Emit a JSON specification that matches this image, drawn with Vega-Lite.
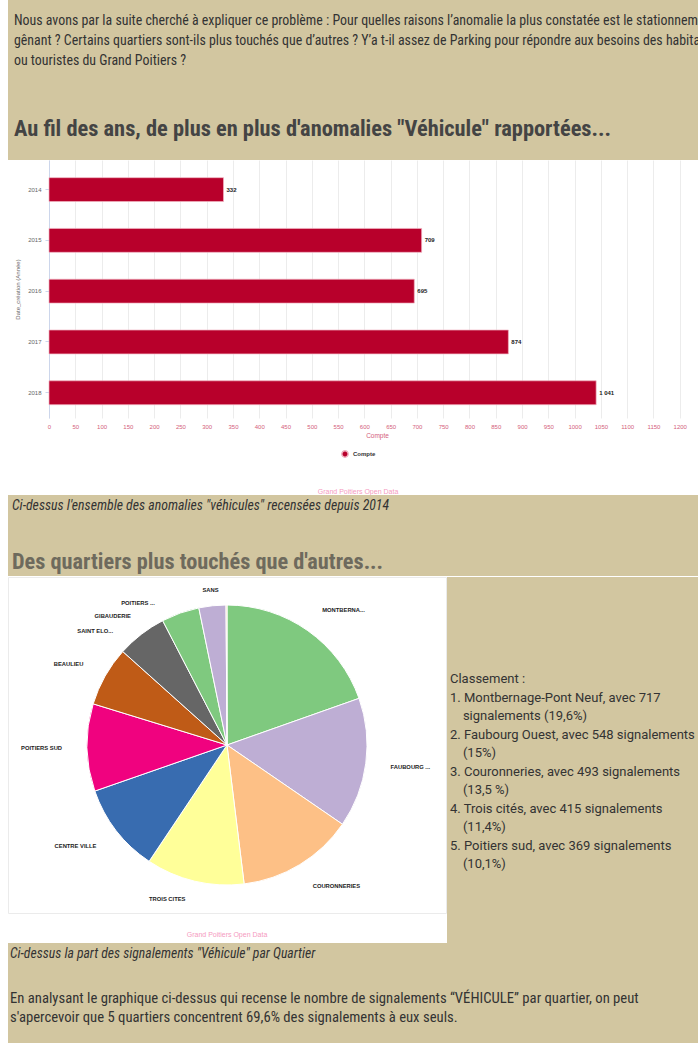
{
  "$schema": "https://vega.github.io/schema/vega-lite/v6.json",
  "background": "white",
  "padding": {"left": 6, "top": 0, "right": 0, "bottom": 0},
  "columns": 1,
  "align": "none",
  "spacing": 0,
  "resolve": {"scale": {"color": "independent"}, "legend": {"color": "independent"}},
  "config": {
    "view": {"stroke": null},
    "concat": {"spacing": 0},
    "locale": {"number": {"decimal": ",", "thousands": "\u00a0", "grouping": [3], "currency": ["", "\u00a0€"]}},
    "title": {"anchor": "start", "frame": "group", "orient": "bottom", "font": "Liberation Sans Narrow, Roboto Condensed, Roboto, sans-serif", "subtitleFont": "Liberation Sans Narrow, Roboto Condensed, Roboto, sans-serif"}
  },
  "concat": [
    {
      "width": 692,
      "height": 160,
      "view": {"fill": "#d2c6a0", "stroke": null},
      "data": {"values": []},
      "mark": {"type": "point"},
      "title": {
        "text": [
          "Nous avons par la suite cherché à expliquer ce problème : Pour quelles raisons l’anomalie la plus constatée est le stationnement",
          "gênant ? Certains quartiers sont-ils plus touchés que d’autres ? Y’a t-il assez de Parking pour répondre aux besoins des habitants",
          "ou touristes du Grand Poitiers ?"
        ],
        "subtitle": "Au fil des ans, de plus en plus d'anomalies \"Véhicule\" rapportées...",
        "orient": "bottom",
        "anchor": "start",
        "frame": "group",
        "offset": -146,
        "dx": 6,
        "fontSize": 13.9,
        "fontWeight": "normal",
        "color": "#333333",
        "lineHeight": 20,
        "subtitleFontSize": 22.4,
        "subtitleFontWeight": "bold",
        "subtitleColor": "#444444",
        "subtitlePadding": 50
      }
    },
    {
      "width": 692,
      "height": 258,
      "data": {"values": [
        {"annee": "2014", "compte": 332},
        {"annee": "2015", "compte": 709},
        {"annee": "2016", "compte": 695},
        {"annee": "2017", "compte": 874},
        {"annee": "2018", "compte": 1041}
      ]},
      "title": {
        "text": "Grand Poitiers Open Data",
        "orient": "bottom",
        "anchor": "middle",
        "frame": "group",
        "offset": 27,
        "dx": 4,
        "font": "Liberation Sans, Arial, sans-serif",
        "fontSize": 7,
        "fontWeight": "normal",
        "color": "#f59ac0"
      },
      "encoding": {
        "y": {
          "field": "annee",
          "type": "ordinal",
          "title": "Date_création (Année)",
          "scale": {"paddingInner": 0.53, "paddingOuter": 0.305, "align": 0.57},
          "axis": {
            "offset": -41,
            "labelFont": "Liberation Sans, Arial, sans-serif",
            "titleFont": "Liberation Sans, Arial, sans-serif",
            "labelFontSize": 6,
            "labelColor": "#666666",
            "titleFontSize": 6,
            "titleColor": "#666666",
            "titleFontWeight": "normal",
            "tickSize": 4,
            "tickColor": "#ccd6eb",
            "domainColor": "#ccd6eb",
            "labelPadding": 4,
            "titlePadding": 7,
            "minExtent": 22,
            "maxExtent": 22,
            "grid": false
          }
        },
        "x": {
          "field": "compte",
          "type": "quantitative",
          "title": "Compte",
          "scale": {"domain": [0, 1250], "nice": false, "range": [41, 698]},
          "axis": {
            "values": [0, 50, 100, 150, 200, 250, 300, 350, 400, 450, 500, 550, 600, 650, 700, 750, 800, 850, 900, 950, 1000, 1050, 1100, 1150, 1200, 1250],
            "format": "d",
            "labelFont": "Liberation Sans, Arial, sans-serif",
            "titleFont": "Liberation Sans, Arial, sans-serif",
            "labelFontSize": 6,
            "labelColor": "#d4607c",
            "titleColor": "#d4607c",
            "titleFontSize": 6.5,
            "titleFontWeight": "normal",
            "titleX": 369,
            "ticks": false,
            "domain": false,
            "labelPadding": 5,
            "titlePadding": 3,
            "grid": true,
            "gridColor": "#ececec",
            "labelFlush": false,
            "labelOverlap": false
          }
        }
      },
      "layer": [
        {
          "mark": {"type": "bar", "stroke": "#f0b3c2", "strokeWidth": 0.7},
          "encoding": {
            "color": {
              "datum": "Compte",
              "type": "nominal",
              "scale": {"range": ["#b8002b"]},
              "legend": {
                "title": null,
                "orient": "none",
                "legendX": 333,
                "legendY": 290,
                "symbolType": "circle",
                "symbolSize": 40,
                "labelFont": "Liberation Sans, Arial, sans-serif",
                "labelFontSize": 6,
                "labelFontWeight": "bold",
                "labelColor": "#333333"
              }
            }
          }
        },
        {
          "mark": {"type": "text", "align": "left", "baseline": "middle", "dx": 3, "fontSize": 6, "fontWeight": "bold", "color": "#222222", "font": "Liberation Sans, Arial, sans-serif"},
          "encoding": {"text": {"field": "compte", "type": "quantitative", "format": ",d"}}
        }
      ]
    },
    {
      "width": 692,
      "height": 81,
      "view": {"fill": "#d2c6a0", "stroke": null},
      "data": {"values": []},
      "mark": {"type": "point"},
      "title": {
        "text": "Ci-dessus l'ensemble des anomalies \"véhicules\" recensées depuis 2014",
        "subtitle": "Des quartiers plus touchés que d'autres...",
        "orient": "bottom",
        "anchor": "start",
        "frame": "group",
        "offset": -77,
        "dx": 4,
        "fontSize": 13.8,
        "fontStyle": "italic",
        "fontWeight": "normal",
        "color": "#333333",
        "subtitleFontSize": 22.3,
        "subtitleFontStyle": "normal",
        "subtitleFontWeight": "bold",
        "subtitleColor": "#6e6a5d",
        "subtitlePadding": 38
      }
    },
    {
      "spacing": 0,
      "resolve": {"scale": {"color": "independent"}},
      "hconcat": [
        {
          "width": 438,
          "height": 336,
          "view": {"stroke": "#ebebeb"},
          "data": {"values": [
            {"label": "MONTBERNA...", "n": 717},
            {"label": "FAUBOURG ...", "n": 548},
            {"label": "COURONNERIES", "n": 493},
            {"label": "TROIS CITES", "n": 415},
            {"label": "CENTRE VILLE", "n": 376},
            {"label": "POITIERS SUD", "n": 369},
            {"label": "BEAULIEU", "n": 252},
            {"label": "SAINT ELO...", "n": 211},
            {"label": "GIBAUDERIE", "n": 160},
            {"label": "POITIERS ...", "n": 114},
            {"label": "SANS", "n": 4}
          ]},
          "title": {
            "text": "Grand Poitiers Open Data",
            "orient": "bottom",
            "anchor": "middle",
            "frame": "group",
            "offset": -4,
            "font": "Liberation Sans, Arial, sans-serif",
            "fontSize": 7,
            "fontWeight": "normal",
            "color": "#f59ac0"
          },
          "encoding": {
            "theta": {"field": "n", "type": "quantitative", "stack": true},
            "order": {"field": "n", "type": "quantitative", "sort": "descending"}
          },
          "layer": [
            {
              "mark": {"type": "arc", "outerRadius": 140, "stroke": "white", "strokeWidth": 1},
              "encoding": {
                "color": {
                  "field": "label",
                  "type": "nominal",
                  "scale": {
                    "domain": ["MONTBERNA...", "FAUBOURG ...", "COURONNERIES", "TROIS CITES", "CENTRE VILLE", "POITIERS SUD", "BEAULIEU", "SAINT ELO...", "GIBAUDERIE", "POITIERS ...", "SANS"],
                    "range": ["#7fc97f", "#beaed4", "#fdc086", "#ffff99", "#386cb0", "#f0027f", "#bf5b17", "#666666", "#7fc97f", "#beaed4", "#fdc086"]
                  },
                  "legend": null
                }
              }
            },
            {
              "mark": {"type": "text", "radius": 165, "align": "left", "baseline": "middle", "fontSize": 5.8, "fontWeight": "bold", "color": "#222222", "font": "Liberation Sans, Arial, sans-serif"},
              "encoding": {
                "detail": {"field": "label", "type": "nominal"},
                "text": {"condition": {"test": "indexof(['MONTBERNA...','FAUBOURG ...','COURONNERIES'], datum.label) >= 0", "field": "label", "type": "nominal"}, "value": ""}
              }
            },
            {
              "mark": {"type": "text", "radius": 165, "align": "right", "baseline": "middle", "fontSize": 5.8, "fontWeight": "bold", "color": "#222222", "font": "Liberation Sans, Arial, sans-serif"},
              "encoding": {
                "detail": {"field": "label", "type": "nominal"},
                "text": {"condition": {"test": "indexof(['CENTRE VILLE','POITIERS SUD','BEAULIEU'], datum.label) >= 0", "field": "label", "type": "nominal"}, "value": ""}
              }
            },
            {
              "mark": {"type": "text", "radius": 158, "align": "right", "baseline": "middle", "dx": -5, "fontSize": 5.8, "fontWeight": "bold", "color": "#222222", "font": "Liberation Sans, Arial, sans-serif"},
              "encoding": {
                "detail": {"field": "label", "type": "nominal"},
                "text": {"condition": {"test": "datum.label == 'TROIS CITES'", "field": "label", "type": "nominal"}, "value": ""}
              }
            },
            {
              "mark": {"type": "text", "radius": 165, "align": "right", "baseline": "middle", "dx": -13, "dy": 16, "fontSize": 5.8, "fontWeight": "bold", "color": "#222222", "font": "Liberation Sans, Arial, sans-serif"},
              "encoding": {
                "detail": {"field": "label", "type": "nominal"},
                "text": {"condition": {"test": "datum.label == 'SAINT ELO...'", "field": "label", "type": "nominal"}, "value": ""}
              }
            },
            {
              "mark": {"type": "text", "radius": 165, "align": "right", "baseline": "middle", "dx": -41, "dy": 27, "fontSize": 5.8, "fontWeight": "bold", "color": "#222222", "font": "Liberation Sans, Arial, sans-serif"},
              "encoding": {
                "detail": {"field": "label", "type": "nominal"},
                "text": {"condition": {"test": "datum.label == 'GIBAUDERIE'", "field": "label", "type": "nominal"}, "value": ""}
              }
            },
            {
              "mark": {"type": "text", "radius": 165, "align": "right", "baseline": "middle", "dx": -55, "dy": 22, "fontSize": 5.8, "fontWeight": "bold", "color": "#222222", "font": "Liberation Sans, Arial, sans-serif"},
              "encoding": {
                "detail": {"field": "label", "type": "nominal"},
                "text": {"condition": {"test": "datum.label == 'POITIERS ...'", "field": "label", "type": "nominal"}, "value": ""}
              }
            },
            {
              "mark": {"type": "text", "radius": 165, "align": "center", "baseline": "middle", "dx": -16, "dy": 10, "fontSize": 5.8, "fontWeight": "bold", "color": "#222222", "font": "Liberation Sans, Arial, sans-serif"},
              "encoding": {
                "detail": {"field": "label", "type": "nominal"},
                "text": {"condition": {"test": "datum.label == 'SANS'", "field": "label", "type": "nominal"}, "value": ""}
              }
            }
          ]
        },
        {
          "width": 254,
          "height": 366,
          "view": {"fill": "#d2c6a0", "stroke": null},
          "data": {"values": []},
          "mark": {"type": "point"},
          "title": {
            "text": [
              "Classement :",
              "1. Montbernage-Pont Neuf, avec 717",
              "\u200b\u00a0\u00a0\u00a0\u00a0signalements (19,6%)",
              "2. Faubourg Ouest, avec 548 signalements",
              "\u200b\u00a0\u00a0\u00a0\u00a0(15%)",
              "3. Couronneries, avec 493 signalements",
              "\u200b\u00a0\u00a0\u00a0\u00a0(13,5 %)",
              "4. Trois cités, avec 415 signalements",
              "\u200b\u00a0\u00a0\u00a0\u00a0(11,4%)",
              "5. Poitiers sud, avec 369 signalements",
              "\u200b\u00a0\u00a0\u00a0\u00a0(10,1%)"
            ],
            "orient": "bottom",
            "anchor": "start",
            "frame": "group",
            "offset": -270,
            "dx": 3,
            "font": "Roboto",
            "fontSize": 13,
            "fontWeight": "normal",
            "color": "#333333",
            "lineHeight": 18.5
          }
        }
      ]
    },
    {
      "width": 692,
      "height": 100,
      "view": {"fill": "#d2c6a0", "stroke": null},
      "data": {"values": []},
      "mark": {"type": "point"},
      "title": {
        "text": "Ci-dessus la part des signalements \"Véhicule\" par Quartier",
        "subtitle": [
          "En analysant le graphique ci-dessus qui recense le nombre de signalements “VÉHICULE” par quartier, on peut",
          "s'apercevoir que 5 quartiers concentrent 69,6% des signalements à eux seuls."
        ],
        "orient": "bottom",
        "anchor": "start",
        "frame": "group",
        "offset": -96,
        "dx": 2,
        "fontSize": 13.7,
        "fontStyle": "italic",
        "fontWeight": "normal",
        "color": "#333333",
        "subtitleFontSize": 14.7,
        "subtitleFontStyle": "normal",
        "subtitleFontWeight": "normal",
        "subtitleColor": "#333333",
        "subtitleLineHeight": 19,
        "subtitlePadding": 30
      }
    }
  ]
}
